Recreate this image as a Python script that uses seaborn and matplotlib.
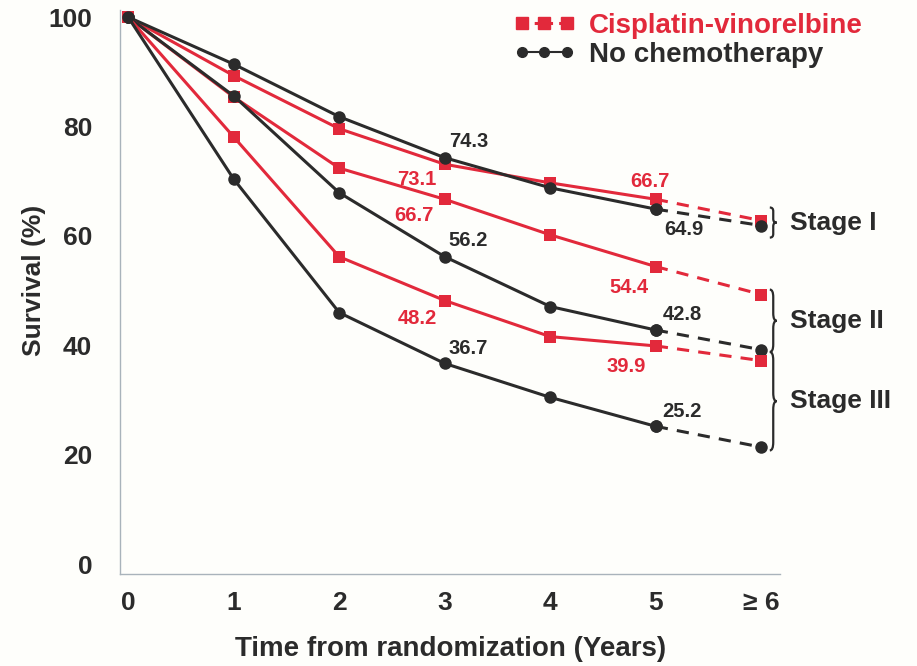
import matplotlib
matplotlib.use("Agg")
import matplotlib.pyplot as plt
from matplotlib.lines import Line2D
from matplotlib.path import Path
from matplotlib.patches import PathPatch
import pandas as pd
import seaborn as sns

# Survival (%) by year since randomization
years = [0, 1, 2, 3, 4, 5, 6]
year_labels = ["0", "1", "2", "3", "4", "5", "≥ 6"]

stage1_chemo = [100, 89.3, 79.6, 73.1, 69.7, 66.7, 62.8]
stage1_none = [100, 91.4, 81.8, 74.3, 68.8, 64.9, 61.9]
stage2_chemo = [100, 85.4, 72.4, 66.7, 60.2, 54.4, 49.3]
stage2_none = [100, 85.6, 67.9, 56.2, 47.1, 42.8, 39.2]
stage3_chemo = [100, 78.1, 56.2, 48.2, 41.6, 39.9, 37.2]
stage3_none = [100, 70.4, 46.0, 36.7, 30.5, 25.2, 21.4]

arms = ["Cisplatin-vinorelbine", "No chemotherapy"]
stages = ["Stage I", "Stage II", "Stage III"]

RED = "#e2293b"
DARK = "#2b2b2b"
BG = "#fefefb"

sns.set_theme(style="white")
plt.rcParams["font.family"] = ["Liberation Sans", "DejaVu Sans"]
plt.rcParams["font.weight"] = "bold"

series = {
    ("Stage I", arms[0]): stage1_chemo,
    ("Stage I", arms[1]): stage1_none,
    ("Stage II", arms[0]): stage2_chemo,
    ("Stage II", arms[1]): stage2_none,
    ("Stage III", arms[0]): stage3_chemo,
    ("Stage III", arms[1]): stage3_none,
}
rows = []
for (stage, arm), vals in series.items():
    for x, v in zip(years, vals):
        rows.append({"stage": stage, "arm": arm, "year": x, "survival": v})
df = pd.DataFrame(rows)

fig = plt.figure(figsize=(9.17, 6.66), dpi=100, facecolor=BG)
ax = fig.add_axes([0.131, 0.138, 0.72, 0.847], facecolor=BG)

style = {arms[0]: dict(color=RED, marker="s", ms=8.5),
         arms[1]: dict(color=DARK, marker="o", ms=9)}

for (stage, arm), _ in series.items():
    sub = df[(df.stage == stage) & (df.arm == arm)]
    st = style[arm]
    solid = sub[sub.year <= 5]
    dashed = sub[sub.year >= 5]
    sns.lineplot(data=dashed, x="year", y="survival", ax=ax, color=st["color"],
                 lw=2.2, linestyle=(0, (4, 3)), marker=st["marker"],
                 markersize=st["ms"], markeredgewidth=0, zorder=2)
    sns.lineplot(data=solid, x="year", y="survival", ax=ax, color=st["color"],
                 lw=2.2, marker=st["marker"], markersize=st["ms"],
                 markeredgewidth=0, zorder=3)

# Value labels
def lab(x, y, text, color, dx, dy):
    ax.annotate(text, (x, y), xytext=(dx, dy), textcoords="offset points",
                color=color, fontsize=14.5, fontweight="bold", ha="center", va="center")

lab(3, stage1_none[3], f"{stage1_none[3]}", DARK, 17, 12)
lab(3, stage1_chemo[3], f"{stage1_chemo[3]}", RED, -20, -11)
lab(3, stage2_chemo[3], f"{stage2_chemo[3]}", RED, -22, -12)
lab(3, stage2_none[3], f"{stage2_none[3]}", DARK, 17, 12)
lab(3, stage3_chemo[3], f"{stage3_chemo[3]}", RED, -20, -13)
lab(3, stage3_none[3], f"{stage3_none[3]}", DARK, 17, 11)
lab(5, stage1_chemo[5], f"{stage1_chemo[5]}", RED, -4, 13)
lab(5, stage1_none[5], f"{stage1_none[5]}", DARK, 20, -15)
lab(5, stage2_chemo[5], f"{stage2_chemo[5]}", RED, -19, -15)
lab(5, stage2_none[5], f"{stage2_none[5]}", DARK, 19, 11)
lab(5, stage3_chemo[5], f"{stage3_chemo[5]}", RED, -21, -15)
lab(5, stage3_none[5], f"{stage3_none[5]}", DARK, 19, 11)

# Braces grouping the final points by stage
def brace(y0, y1, x=6.08, w=0.065):
    ym = (y0 + y1) / 2
    h = y1 - y0
    q = min(h * 0.12, 1.5)
    verts = [(x, y0), (x + w * 0.5, y0), (x + w * 0.5, y0 + q),
             (x + w * 0.5, ym - q), (x + w * 0.5, ym), (x + w, ym),
             (x + w * 0.5, ym), (x + w * 0.5, ym + q),
             (x + w * 0.5, y1 - q), (x + w * 0.5, y1), (x, y1)]
    codes = [Path.MOVETO, Path.CURVE3, Path.CURVE3,
             Path.LINETO, Path.CURVE3, Path.CURVE3,
             Path.CURVE3, Path.CURVE3,
             Path.LINETO, Path.CURVE3, Path.CURVE3]
    ax.add_patch(PathPatch(Path(verts, codes), fill=False, lw=1.6,
                           edgecolor=DARK, clip_on=False, zorder=4))
    return ym

for (lo, hi), name in zip([(59.7, 65.2), (38.8, 50.2), (20.8, 38.8)], stages):
    ym = brace(lo, hi)
    ax.text(6.27, ym, name, color=DARK, fontsize=19, fontweight="bold",
            va="center", ha="left", clip_on=False)

ax.set_xlim(-0.076, 6.18)
ax.set_ylim(-1.8, 101.3)
ax.set_xticks(years)
ax.set_xticklabels(year_labels)
ax.set_yticks([0, 20, 40, 60, 80, 100])
ax.tick_params(axis="both", labelsize=19, colors="#9aa4ad", labelcolor=DARK,
               length=3, width=0.8, direction="out")
ax.tick_params(axis="x", pad=9)
ax.tick_params(axis="y", pad=17)
for t in ax.get_xticklabels() + ax.get_yticklabels():
    t.set_fontweight("bold")
ax.set_xlabel("Time from randomization (Years)", fontsize=20, fontweight="bold",
              color=DARK, labelpad=15)
ax.set_ylabel("Survival (%)", fontsize=19, fontweight="bold", color=DARK, labelpad=2)
ax.yaxis.set_label_coords(-0.112, 0.52)
for s in ["top", "right"]:
    ax.spines[s].set_visible(False)
for s in ["left", "bottom"]:
    ax.spines[s].set_color("#a9b3bb")
    ax.spines[s].set_linewidth(1.0)

handles = [
    Line2D([], [], color=RED, lw=2.2, linestyle=(0, (2, 2)), marker="s", ms=8),
    Line2D([], [], color=DARK, lw=1.5, marker="o", ms=7),
]
leg = fig.legend(handles, arms, loc="upper left", bbox_to_anchor=(0.533, 1.018),
                 frameon=False, numpoints=3, handlelength=2.2, handletextpad=0.5,
                 labelspacing=0.1, prop={"size": 20, "weight": "bold"})
for txt, c in zip(leg.get_texts(), [RED, DARK]):
    txt.set_color(c)

fig.savefig("out.png", dpi=100, facecolor=BG)
